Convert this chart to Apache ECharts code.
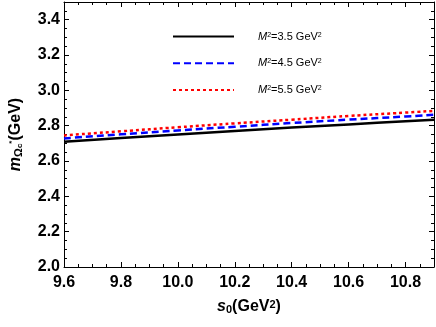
<!DOCTYPE html>
<html>
<head>
<meta charset="utf-8">
<script src="https://cdn.jsdelivr.net/npm/echarts@6/dist/echarts.min.js"></script>
<style>html,body{margin:0;padding:0;background:#fff}#c{width:436px;height:327px}</style>
</head>
<body>
<div id="c"></div>
<script>
const s0 = [9.6, 9.8, 10.0, 10.2, 10.4, 10.6, 10.8, 10.9];
const mM35 = [2.709, 2.730, 2.750, 2.770, 2.789, 2.807, 2.825, 2.834];
const mM45 = [2.728, 2.751, 2.773, 2.794, 2.815, 2.834, 2.852, 2.862];
const mM55 = [2.745, 2.768, 2.791, 2.813, 2.834, 2.855, 2.874, 2.884];
const seriesNames = ['M2=3.5', 'M2=4.5', 'M2=5.5'];
const legendLabels = ['3.5', '4.5', '5.5'];

const font = 'Liberation Sans, Arial, sans-serif';
const chart = echarts.init(document.getElementById('c'));
const pair = (ys) => s0.map((x, i) => [x, ys[i]]);
const tickStyle = {show: true, inside: true, length: 5, lineStyle: {color: '#000', width: 1}};
const minorStyle = {show: true, splitNumber: 4, length: 3, lineStyle: {color: '#000', width: 1}};
const axisLine = {show: true, onZero: false, lineStyle: {color: '#000', width: 1}};
const labelStyle = {fontFamily: font, fontWeight: 'bold', fontSize: 16, color: '#000'};

chart.setOption({
  animation: false,
  backgroundColor: '#fff',
  grid: {left: 57, right: 2, top: 2, bottom: 60},
  legend: {
    orient: 'vertical', left: 172, top: 31, padding: 0,
    itemWidth: 61, itemHeight: 14, itemGap: 15.5,
    itemStyle: {opacity: 0},
    data: seriesNames,
    formatter: (name) => {
      const v = legendLabels[seriesNames.indexOf(name)];
      return '{i|M}{sup|2}{t|=' + v + ' GeV}{sup|2}';
    },
    textStyle: {
      padding: [0, 0, 0, 19],
      rich: {
        i: {fontFamily: font, fontStyle: 'italic', fontSize: 11, color: '#000'},
        t: {fontFamily: font, fontSize: 11, color: '#000'},
        sup: {fontFamily: font, fontSize: 7, color: '#000', verticalAlign: 'top'}
      }
    }
  },
  xAxis: [{
    type: 'value', min: 9.6, max: 10.9, interval: 0.2,
    axisLine: axisLine, axisTick: tickStyle, minorTick: minorStyle,
    splitLine: {show: false},
    axisLabel: Object.assign({margin: 8, showMaxLabel: false, formatter: v => v.toFixed(1)}, labelStyle),
    name: '{s|s}{sub|0}{t|(GeV}{sup|2}{t|)}',
    nameLocation: 'middle', nameGap: 32,
    nameTextStyle: {
      rich: {
        s: {fontFamily: font, fontWeight: 'bold', fontStyle: 'italic', fontSize: 16, color: '#000'},
        t: {fontFamily: font, fontWeight: 'bold', fontSize: 16, color: '#000'},
        sub: {fontFamily: font, fontWeight: 'bold', fontSize: 11, color: '#000', verticalAlign: 'bottom'},
        sup: {fontFamily: font, fontWeight: 'bold', fontSize: 11, color: '#000', verticalAlign: 'top'}
      }
    }
  }, {
    type: 'value', position: 'top', min: 9.6, max: 10.9, interval: 0.2,
    axisLine: axisLine, axisTick: tickStyle, minorTick: minorStyle,
    splitLine: {show: false}, axisLabel: {show: false}
  }],
  yAxis: [{
    type: 'value', min: 2.0, max: 3.5, interval: 0.2,
    axisLine: axisLine, axisTick: tickStyle, minorTick: minorStyle,
    splitLine: {show: false},
    axisLabel: Object.assign({margin: 4, showMaxLabel: false, formatter: v => v.toFixed(1)}, labelStyle),
    name: '{m|m}{sub|Ω}{subsub|c}{sup|*}{t|(GeV)}',
    nameLocation: 'middle', nameGap: 40, nameRotate: 90,
    nameTextStyle: {
      rich: {
        m: {fontFamily: font, fontWeight: 'bold', fontStyle: 'italic', fontSize: 16, color: '#000'},
        t: {fontFamily: font, fontWeight: 'bold', fontSize: 16, color: '#000'},
        sub: {fontFamily: font, fontWeight: 'bold', fontSize: 11, color: '#000', verticalAlign: 'bottom'},
        subsub: {fontFamily: font, fontWeight: 'bold', fontSize: 8, color: '#000', verticalAlign: 'bottom'},
        sup: {fontFamily: font, fontWeight: 'bold', fontSize: 8, color: '#000', verticalAlign: 'top'}
      }
    }
  }, {
    type: 'value', position: 'right', min: 2.0, max: 3.5, interval: 0.2,
    axisLine: axisLine, axisTick: tickStyle, minorTick: minorStyle,
    splitLine: {show: false}, axisLabel: {show: false}
  }],
  series: [
    {name: seriesNames[0], type: 'line', data: pair(mM35), symbol: 'none', smooth: true,
     lineStyle: {color: '#000', width: 2.5, type: 'solid'}, itemStyle: {color: '#000'}},
    {name: seriesNames[1], type: 'line', data: pair(mM45), symbol: 'none', smooth: true,
     lineStyle: {color: '#0000ff', width: 2.5, type: [7, 4]}, itemStyle: {color: '#0000ff'}},
    {name: seriesNames[2], type: 'line', data: pair(mM55), symbol: 'none', smooth: true,
     lineStyle: {color: '#ff0000', width: 2.5, type: [3, 3]}, itemStyle: {color: '#ff0000'}}
  ]
});
</script>
</body>
</html>
